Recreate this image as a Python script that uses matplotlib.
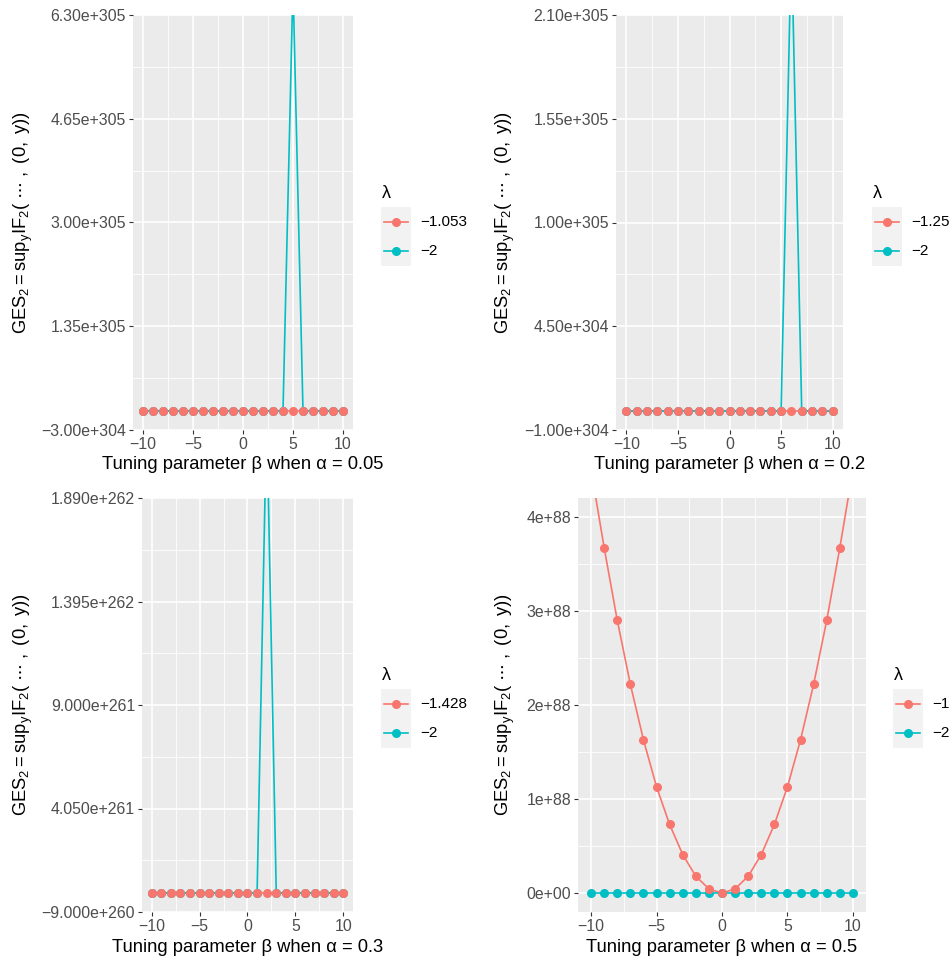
import matplotlib
matplotlib.use("Agg")
import matplotlib.pyplot as plt
from matplotlib.lines import Line2D
from matplotlib.patches import Rectangle

plt.rcParams['font.family'] = ['Liberation Sans', 'DejaVu Sans']
plt.rcParams['mathtext.fontset'] = 'custom'
plt.rcParams['mathtext.rm'] = 'Liberation Sans'
plt.rcParams['mathtext.it'] = 'Liberation Sans'
plt.rcParams['mathtext.default'] = 'regular'

# donnees (beta de -10 a 10)
beta = [-10, -9, -8, -7, -6, -5, -4, -3, -2, -1, 0, 1, 2, 3, 4, 5, 6, 7, 8, 9, 10]

# alpha = 0.05
a005_lam1 = [0, 0, 0, 0, 0, 0, 0, 0, 0, 0, 0, 0, 0, 0, 0, 0, 0, 0, 0, 0, 0]
a005_lam2 = [0, 0, 0, 0, 0, 0, 0, 0, 0, 0, 0, 0, 0, 0, 0, 6.8e305, 0, 0, 0, 0, 0]
# alpha = 0.2
a02_lam1 = [0, 0, 0, 0, 0, 0, 0, 0, 0, 0, 0, 0, 0, 0, 0, 0, 0, 0, 0, 0, 0]
a02_lam2 = [0, 0, 0, 0, 0, 0, 0, 0, 0, 0, 0, 0, 0, 0, 0, 0, 2.5e305, 0, 0, 0, 0]
# alpha = 0.3
a03_lam1 = [0, 0, 0, 0, 0, 0, 0, 0, 0, 0, 0, 0, 0, 0, 0, 0, 0, 0, 0, 0, 0]
a03_lam2 = [0, 0, 0, 0, 0, 0, 0, 0, 0, 0, 0, 0, 2.3e262, 0, 0, 0, 0, 0, 0, 0, 0]
# alpha = 0.5
a05_lam1 = [4.5e88, 3.67e88, 2.90e88, 2.22e88, 1.63e88, 1.13e88, 0.73e88, 0.41e88, 0.18e88, 0.046e88, 0,
            0.046e88, 0.18e88, 0.41e88, 0.73e88, 1.13e88, 1.63e88, 2.22e88, 2.90e88, 3.67e88, 4.5e88]
a05_lam2 = [0, 0, 0, 0, 0, 0, 0, 0, 0, 0, 0, 0, 0, 0, 0, 0, 0, 0, 0, 0, 0]

lam_labels = [['\u22121.053', '\u22122'], ['\u22121.25', '\u22122'],
              ['\u22121.428', '\u22122'], ['\u22121', '\u22122']]
alphas = ['0.05', '0.2', '0.3', '0.5']

y_ticks = [
    [-3.0e304, 1.35e305, 3.0e305, 4.65e305, 6.3e305],
    [-1.0e304, 4.5e304, 1.0e305, 1.55e305, 2.1e305],
    [-9.0e260, 4.05e261, 9.0e261, 1.395e262, 1.89e262],
    [0, 1e88, 2e88, 3e88, 4e88],
]
y_tick_labels = [
    ['\u22123.00e+304', '1.35e+305', '3.00e+305', '4.65e+305', '6.30e+305'],
    ['\u22121.00e+304', '4.50e+304', '1.00e+305', '1.55e+305', '2.10e+305'],
    ['\u22129.000e+260', '4.050e+261', '9.000e+261', '1.395e+262', '1.890e+262'],
    ['0e+00', '1e+88', '2e+88', '3e+88', '4e+88'],
]
y_lims = [(-3.0e304, 6.3e305), (-1.0e304, 2.1e305), (-9.0e260, 1.89e262), (-2e87, 4.2e88)]

series = [(a005_lam1, a005_lam2), (a02_lam1, a02_lam2), (a03_lam1, a03_lam2), (a05_lam1, a05_lam2)]

RED = '#F8766D'
CYAN = '#00BFC4'
W, H = 953, 968

# positions en pixels: gauche, haut, droite, bas
panels = [(133, 15, 353, 430), (616, 15, 843, 430), (142, 498, 353, 912), (578, 498, 866, 912)]
legend_pos = [(381, 207), (872, 207), (381, 689), (893, 689)]
ylab_x = [23, 505, 23, 505]


def fx(x):
    return x / W


def fy(y):
    return 1 - y / H


fig = plt.figure(figsize=(W / 100, H / 100), dpi=100)

for i in range(4):
    l, t, r, b = panels[i]
    ax = fig.add_axes([fx(l), fy(b), (r - l) / W, (b - t) / H])
    ax.set_facecolor('#EBEBEB')
    for s in ax.spines.values():
        s.set_visible(False)

    lam1, lam2 = series[i]
    ax.plot(beta, lam1, color=RED, lw=1.2, zorder=2)
    ax.plot(beta, lam2, color=CYAN, lw=1.2, zorder=2.1)
    ax.plot(beta, lam2, 'o', color=CYAN, ms=5.5, zorder=3)
    ax.plot(beta, lam1, 'o', color=RED, ms=5.5, zorder=3.1)

    ax.set_xlim(-11, 11)
    ax.set_ylim(*y_lims[i])
    ax.set_xticks([-10, -5, 0, 5, 10])
    ax.set_xticks([-7.5, -2.5, 2.5, 7.5], minor=True)
    ax.set_xticklabels(['\u221210', '\u22125', '0', '5', '10'])
    yt = y_ticks[i]
    ax.set_yticks(yt)
    ax.set_yticklabels(y_tick_labels[i])
    ymin = [(yt[k] + yt[k + 1]) / 2 for k in range(len(yt) - 1)]
    if i == 3:
        ymin = ymin + [yt[-1] + 0.5e88]
    ax.set_yticks(ymin, minor=True)
    ax.set_ylim(*y_lims[i])

    ax.grid(which='major', color='white', lw=1.2)
    ax.grid(which='minor', color='white', lw=0.6)
    ax.set_axisbelow(True)
    ax.tick_params(which='major', length=3, width=0.8, color='#333333',
                   labelcolor='#4D4D4D', labelsize=11.4, pad=2)
    ax.tick_params(which='minor', length=0)

    # titres des axes
    fig.text(fx((l + r) / 2), fy(b + 35), 'Tuning parameter \u03b2 when \u03b1 = ' + alphas[i],
             ha='center', va='center', fontsize=13.2)
    fig.text(fx(ylab_x[i]), fy((t + b) / 2),
             r'$GES_2 = sup_yIF_2(\ \cdots\ ,\ (0,\ y))$',
             ha='center', va='center', rotation=90, fontsize=13.2)

    # legende facon ggplot
    lx, ly = legend_pos[i]
    fig.text(fx(lx + 1), fy(ly - 14), '\u03bb', ha='left', va='center', fontsize=13)
    fig.add_artist(Rectangle((fx(lx), fy(ly + 59)), 30 / W, 59 / H,
                             transform=fig.transFigure, facecolor='#F2F2F2', edgecolor='none'))
    for k, col in enumerate([RED, CYAN]):
        yy = fy(ly + 15 + 29 * k)
        fig.add_artist(Line2D([fx(lx + 3), fx(lx + 27)], [yy, yy], color=col, lw=1.2,
                              transform=fig.transFigure))
        fig.add_artist(Line2D([fx(lx + 15)], [yy], marker='o', ms=5.5, color=col,
                              transform=fig.transFigure))
        fig.text(fx(lx + 39), yy, lam_labels[i][k], ha='left', va='center', fontsize=11)

fig.savefig('out.png', dpi=100)
